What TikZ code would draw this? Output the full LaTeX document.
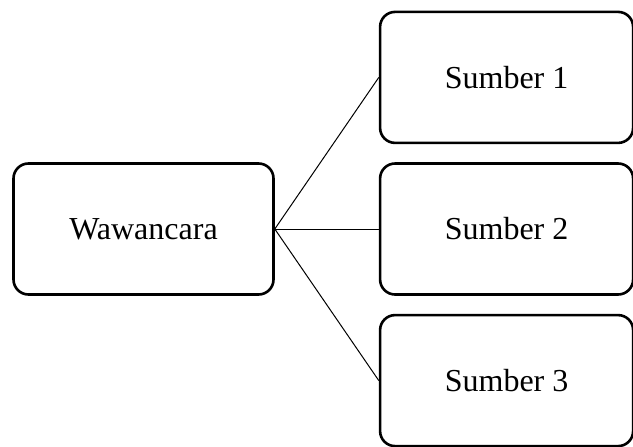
\documentclass[tikz,border=0pt]{standalone}
\usepackage{fontspec}
\setmainfont{Liberation Serif}
\usepackage{tikz}
\usetikzlibrary{positioning}
\tikzset{
  box/.style={rectangle, rounded corners=7.5pt, draw, line width=1.3pt, align=center,
              minimum width=130pt, minimum height=65.5pt, inner sep=4pt,
              font=\fontsize{16}{19}\selectfont},
  narrowbox/.style={box, minimum width=126.5pt},
  link/.style={draw=black, line width=0.5pt},
}
\begin{document}
\begin{tikzpicture}[node distance=9pt and 52pt]
  \useasboundingbox (-71.75pt,-108.5pt) rectangle (244.75pt,114.5pt);
  \node[box] (wawancara) {Wawancara};
  \node[narrowbox, right=of wawancara] (sumber2) {Sumber 2};
  \node[narrowbox, above=of sumber2] (sumber1) {Sumber 1};
  \node[narrowbox, below=of sumber2] (sumber3) {Sumber 3};
  \draw[link] (wawancara.east) -- (sumber1.west);
  \draw[link] (wawancara.east) -- (sumber2.west);
  \draw[link] (wawancara.east) -- (sumber3.west);
\end{tikzpicture}
\end{document}
